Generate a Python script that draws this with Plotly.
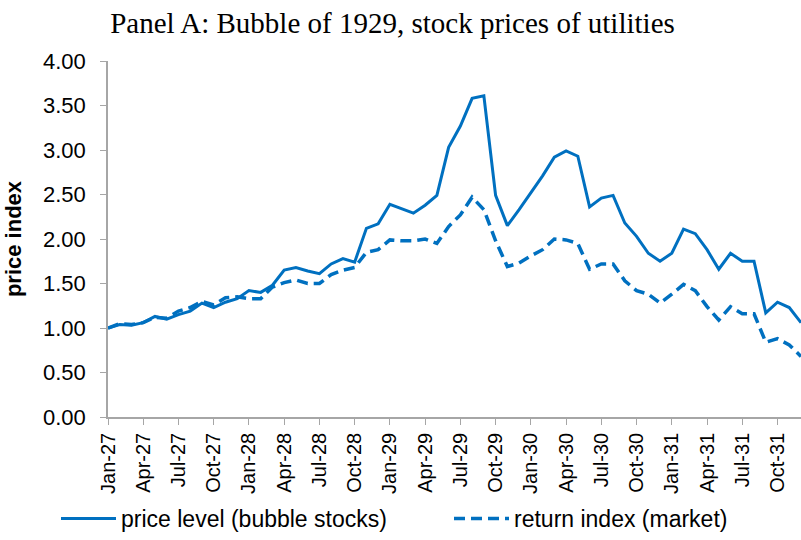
import plotly.graph_objects as go

months = ["Jan", "Feb", "Mar", "Apr", "May", "Jun", "Jul", "Aug", "Sep", "Oct", "Nov", "Dec"]
years = ["27", "28", "29", "30", "31"]
dates = [f"{m}-{y}" for y in years for m in months]

price_level = [
    1.00, 1.04, 1.03, 1.06, 1.13, 1.10, 1.15, 1.19, 1.28, 1.23, 1.29, 1.33,
    1.42, 1.40, 1.48, 1.65, 1.68, 1.64, 1.61, 1.72, 1.78, 1.74, 2.12, 2.17,
    2.39, 2.34, 2.29, 2.38, 2.49, 3.03, 3.27, 3.58, 3.61, 2.49, 2.15, 2.33,
    2.52, 2.71, 2.92, 2.99, 2.93, 2.36, 2.46, 2.49, 2.18, 2.03, 1.84, 1.75,
    1.84, 2.11, 2.06, 1.88, 1.66, 1.84, 1.75, 1.75, 1.17, 1.29, 1.23, 1.06,
]
return_index = [
    1.00, 1.05, 1.04, 1.06, 1.12, 1.11, 1.19, 1.23, 1.30, 1.26, 1.34, 1.35,
    1.33, 1.33, 1.46, 1.51, 1.54, 1.50, 1.50, 1.60, 1.65, 1.68, 1.85, 1.88,
    1.99, 1.98, 1.98, 2.00, 1.95, 2.14, 2.27, 2.47, 2.33, 1.98, 1.69, 1.73,
    1.81, 1.88, 2.00, 1.99, 1.95, 1.66, 1.72, 1.72, 1.53, 1.42, 1.38, 1.28,
    1.38, 1.49, 1.42, 1.24, 1.09, 1.24, 1.16, 1.16, 0.84, 0.88, 0.81, 0.68,
]

tick_labels = dates[::3]
y_ticks = [0, 0.5, 1.0, 1.5, 2.0, 2.5, 3.0, 3.5, 4.0]

blue = "#0070C0"
axis_grey = "#A6A6A6"
x_idx = list(range(len(dates)))

W, H = 801, 540
L, T, B = 108, 61, 119
plot_w = W - L

def px_x(p):
    return (p - L) / plot_w

fig = go.Figure()
fig.add_trace(go.Scatter(x=x_idx, y=price_level, mode="lines",
                         name="price level (bubble stocks)", legend="legend",
                         line=dict(color=blue, width=3)))
fig.add_trace(go.Scatter(x=x_idx, y=return_index, mode="lines",
                         name="return index (market)", legend="legend2",
                         line=dict(color=blue, width=3.5, dash="11px,6px")))

legend_common = dict(orientation="h", xanchor="left", y=-0.285, yanchor="middle",
                     font=dict(size=23), itemwidth=55, bgcolor="rgba(0,0,0,0)")

fig.update_layout(
    width=W, height=H,
    margin=dict(l=L, r=0, t=T, b=B),
    paper_bgcolor="white", plot_bgcolor="white",
    font=dict(family="Liberation Sans, Arial", size=18, color="#000000"),
    title=dict(text="Panel A: Bubble of 1929, stock prices of utilities",
               font=dict(family="Liberation Serif, Times New Roman", size=29, color="#000000"),
               x=0.49, xanchor="center", y=0.958, yanchor="middle"),
    showlegend=True,
    legend=dict(x=px_x(56), **legend_common),
    legend2=dict(x=px_x(449), **legend_common),
    xaxis=dict(range=[0, 59], tickmode="array", tickvals=x_idx[::3], ticktext=tick_labels,
               tickangle=-90, showgrid=False, zeroline=False, showline=True,
               linecolor=axis_grey, linewidth=1.5, ticks="outside", ticklen=6,
               tickcolor=axis_grey, tickfont=dict(size=20), automargin=False),
    yaxis=dict(range=[0, 4.0], tickmode="array", tickvals=y_ticks,
               ticktext=[f"{v:.2f}" for v in y_ticks],
               showgrid=False, zeroline=False, showline=True,
               linecolor=axis_grey, linewidth=1.5, ticks="outside", ticklen=6,
               tickcolor=axis_grey, tickfont=dict(size=22), automargin=False,
               ticklabelstandoff=10,
               title=dict(text="<b>price index</b>", font=dict(size=22), standoff=15)),
)

fig.write_html(
    "out.html",
    config={"displayModeBar": False},
    post_script="document.body.style.margin='0';document.body.style.overflow='hidden';",
)
